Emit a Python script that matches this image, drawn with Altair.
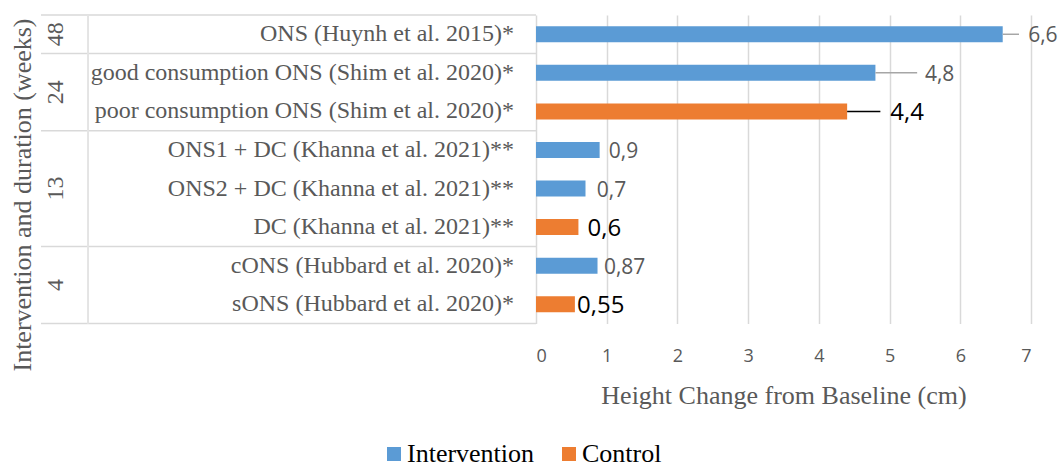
import altair as alt
import pandas as pd

# ---------------- data ----------------
categories = [
    "ONS (Huynh et al. 2015)*",
    "good consumption ONS (Shim et al. 2020)*",
    "poor consumption ONS (Shim et al. 2020)*",
    "ONS1 + DC (Khanna et al. 2021)**",
    "ONS2 + DC (Khanna et al. 2021)**",
    "DC (Khanna et al. 2021)**",
    "cONS (Hubbard et al. 2020)*",
    "sONS (Hubbard et al. 2020)*",
]
values = [6.6, 4.8, 4.4, 0.9, 0.7, 0.6, 0.87, 0.55]
series = ["Intervention", "Intervention", "Control", "Intervention",
          "Intervention", "Control", "Intervention", "Control"]
durations = ["48", "24", "24", "13", "13", "13", "4", "4"]
value_labels = [str(v).replace(".", ",") for v in values]
x_ticks = [0, 1, 2, 3, 4, 5, 6, 7]
y_title_text = ["Intervention and duration (weeks)"]

# ---------------- label layout (x-units) ----------------
leader_len = [0.23, 0.59, 0.47, 0, 0, 0, 0, 0]
label_gap = [0.13, 0.11, 0.14, 0.13, 0.16, 0.13, 0.09, 0.03]

SERIF = "Liberation Serif"
SANS = "Open Sans"
GRAY = "#595959"
BLUE = "#5B9BD5"
ORANGE = "#ED7D31"
LINE = "#D9D9D9"

rows = pd.DataFrame({
    "row": list(range(len(categories))),
    "category": categories,
    "value": values,
    "series": series,
    "label": value_labels,
    "lead": leader_len,
    "lead_end": [v + l for v, l in zip(values, leader_len)],
    "label_pos": [v + l + g for v, l, g in zip(values, leader_len, label_gap)],
})

# group (duration) spans
grp = []
bounds = [-0.5]
for i, d in enumerate(durations):
    if i == 0 or durations[i - 1] != d:
        grp.append({"duration": d, "start": i, "end": i})
        if i > 0:
            bounds.append(i - 0.5)
    else:
        grp[-1]["end"] = i
bounds.append(len(durations) - 0.5)
groups = pd.DataFrame([{"duration": g["duration"], "mid": (g["start"] + g["end"]) / 2} for g in grp])
seps = pd.DataFrame({"pos": bounds, "lo": [bounds[0]] * len(bounds), "hi": [bounds[-1]] * len(bounds)})
ytitle_df = pd.DataFrame({"t": y_title_text})

yscale = alt.Scale(domain=[-0.5, len(categories) - 0.5], reverse=True, nice=False,
                   zero=False, padding=0)
xscale = alt.Scale(domain=[0, 7], nice=False, padding=0)
xaxis = alt.Axis(values=x_ticks, format="d", grid=True, gridColor=LINE, gridWidth=1.5,
                 domain=False, ticks=False,
                 labelFont=SANS, labelFontSize=18, labelColor=GRAY,
                 labelBaseline="alphabetic", labelPadding=38,
                 title="Height Change from Baseline (cm)",
                 titleFont=SERIF, titleFontSize=26, titleFontWeight="normal",
                 titleColor=GRAY, titleBaseline="alphabetic", titleY=80)

base = alt.Chart(rows)

bars = base.mark_bar(orient="horizontal", size=16).encode(
    x=alt.X("value:Q", scale=xscale, axis=xaxis),
    x2=alt.X2("zero:Q"),
    y=alt.Y("row:Q", scale=yscale, axis=None),
    color=alt.Color("series:N",
                    scale=alt.Scale(domain=["Intervention", "Control"], range=[BLUE, ORANGE]),
                    legend=alt.Legend(orient="none", legendX=-155, legendY=426,
                                      direction="horizontal", title=None,
                                      symbolType="square", symbolSize=196,
                                      symbolStrokeWidth=0, labelFont=SERIF,
                                      labelFontSize=26, labelColor="#000000",
                                      columnPadding=21, labelOffset=0)),
).transform_calculate(zero="0")

leaders = base.transform_filter("datum.lead > 0").mark_rule(strokeWidth=1.5).encode(
    x=alt.X("value:Q", scale=xscale, axis=xaxis),
    x2="lead_end:Q",
    y=alt.Y("row:Q", scale=yscale, axis=None),
    color=alt.condition("datum.series == 'Control'", alt.value("#000000"), alt.value("#A6A6A6")),
)

vlabels = base.mark_text(align="left", baseline="middle", font=SANS, dy=2).encode(
    x=alt.X("label_pos:Q", scale=xscale, axis=xaxis),
    y=alt.Y("row:Q", scale=yscale, axis=None),
    text="label:N",
    color=alt.condition("datum.series == 'Control'", alt.value("#000000"), alt.value(GRAY)),
    size=alt.condition("datum.series == 'Control'", alt.value(24), alt.value(21)),
)

cat_labels = base.mark_text(align="right", baseline="middle", font=SERIF, fontSize=24,
                            color=GRAY).encode(
    x=alt.value(-22),
    y=alt.Y("row:Q", scale=yscale, axis=None),
    text="category:N",
)

sep_rules = alt.Chart(seps).mark_rule(color=LINE, strokeWidth=1.5).encode(
    x=alt.value(-495), x2=alt.value(0),
    y=alt.Y("pos:Q", scale=yscale, axis=None),
)

divider = alt.Chart(seps).mark_rule(color="#E4E4E4", strokeWidth=1).encode(
    x=alt.value(-448),
    y=alt.Y("lo:Q", scale=yscale, axis=None),
    y2="hi:Q",
)

grp_labels = alt.Chart(groups).mark_text(angle=270, align="center", baseline="middle",
                                         font=SERIF, fontSize=24, color=GRAY).encode(
    x=alt.value(-480),
    y=alt.Y("mid:Q", scale=yscale, axis=None),
    text="duration:N",
)

y_title = alt.Chart(ytitle_df).mark_text(angle=270, align="center", baseline="middle",
                                         font=SERIF, fontSize=26, color=GRAY).encode(
    x=alt.value(-513),
    y=alt.value(180),
    text="t:N",
)

chart = alt.layer(sep_rules, divider, bars, leaders, vlabels, cat_labels, grp_labels, y_title).properties(
    width=495, height=308.5,
    autosize=alt.AutoSizeParams(type="none"),
    padding={"left": 536, "top": 15, "right": 28, "bottom": 147.5},
    background="white",
).configure_view(stroke=None).configure_legend(labelFont=SERIF, labelFontSize=26)

chart.save("out.html", embed_options={"renderer": "svg", "actions": False})
